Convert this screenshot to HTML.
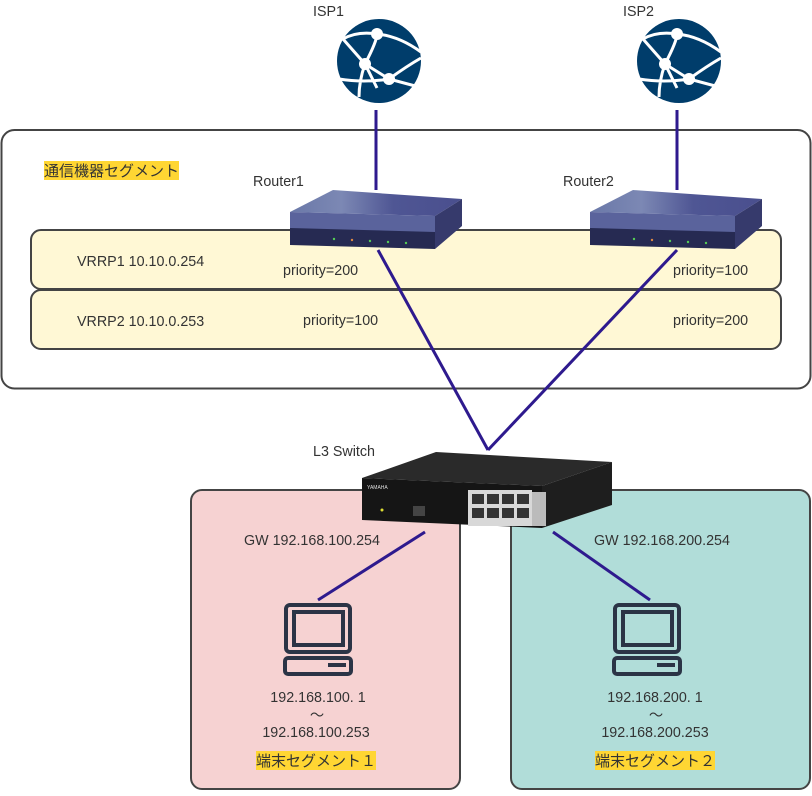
<!DOCTYPE html>
<html><head><meta charset="utf-8"><style>
html,body{margin:0;padding:0;background:#fff;}
svg text{font-family:"Liberation Sans","Noto Sans CJK JP",sans-serif;font-size:14.3px;fill:#333;}
svg text.j{font-size:15px;}
</style></head><body>
<svg width="812" height="791" viewBox="0 0 812 791" xmlns="http://www.w3.org/2000/svg">
<defs>
<linearGradient id="rt" x1="0" y1="0" x2="1" y2="0"><stop offset="0" stop-color="#6a78a8"/><stop offset="0.3" stop-color="#7c88b4"/><stop offset="0.6" stop-color="#4f5694"/><stop offset="1" stop-color="#4a4f8e"/></linearGradient>
<g id="router">
<polygon points="0,22 43,0 172,9 145,26" fill="url(#rt)"/>
<polygon points="0,22 145,26 145,50 0,46" fill="#5a639c"/>
<polygon points="0,38 145,42 145,59 0,55" fill="#262a52"/>
<polygon points="145,26 172,9 172,36 145,59" fill="#363a6c"/>
<circle cx="44" cy="49" r="1.2" fill="#5c5"/><circle cx="62" cy="50" r="1.2" fill="#d84"/><circle cx="80" cy="51" r="1.2" fill="#5c5"/><circle cx="98" cy="52" r="1.2" fill="#5c5"/><circle cx="116" cy="53" r="1.2" fill="#5c5"/>
</g>
<g id="globe">
<circle cx="0" cy="0" r="42" fill="#003d6b"/>
<g stroke="#fff" stroke-width="3" fill="none">
<path d="M-36,-22 L-14,3 L-2,27 M-14,3 Q-2,-20 -2,-27 Q20,-25 42,-9 M-2,-27 Q-22,-30 -36,-22 M-14,3 L10,18 L40,26 M10,18 Q28,5 42,-3 M-14,3 Q-20,20 -20,36 M-40,18 Q-15,22 10,18"/>
</g>
<circle cx="-2" cy="-27" r="6" fill="#fff"/><circle cx="-14" cy="3" r="6" fill="#fff"/><circle cx="10" cy="18" r="6" fill="#fff"/>
</g>
<g id="pc" fill="none" stroke="#2b3446" stroke-width="4">
<rect x="2" y="2" width="64" height="47" rx="4"/>
<rect x="10" y="9" width="49" height="33"/>
<rect x="1" y="55" width="66" height="16" rx="3"/>
<rect x="44" y="60" width="18" height="4" fill="#2b3446" stroke="none"/>
</g>
</defs>

<rect x="1.5" y="130" width="809" height="258.5" rx="13" fill="#fff" stroke="#444" stroke-width="2"/>
<rect x="44" y="161" width="135" height="19" fill="#ffd633"/>
<text class="j" x="44" y="176">通信機器セグメント</text>
<rect x="31" y="230" width="750" height="59" rx="10" fill="#fff8d5" stroke="#444" stroke-width="2"/>
<rect x="31" y="290" width="750" height="59" rx="10" fill="#fff8d5" stroke="#444" stroke-width="2"/>
<text x="77" y="266">VRRP1 10.10.0.254</text>
<text x="77" y="326">VRRP2 10.10.0.253</text>
<text x="283" y="275">priority=200</text>
<text x="303" y="325">priority=100</text>
<text x="673" y="275">priority=100</text>
<text x="673" y="325">priority=200</text>

<rect x="191" y="490" width="269" height="299" rx="11" fill="#f6d2d2" stroke="#444" stroke-width="2"/>
<rect x="511" y="490" width="299" height="299" rx="11" fill="#b1ddd9" stroke="#444" stroke-width="2"/>

<text x="313" y="16">ISP1</text>
<text x="623" y="16">ISP2</text>
<use href="#globe" x="379" y="61"/>
<use href="#globe" x="679" y="61"/>
<text x="253" y="186">Router1</text>
<text x="563" y="186">Router2</text>
<text x="313" y="456">L3 Switch</text>

<g stroke="#2e1a8e" stroke-width="3">
<line x1="376" y1="110" x2="376" y2="190"/>
<line x1="677" y1="110" x2="677" y2="190"/>
<line x1="378" y1="250" x2="488" y2="450"/>
<line x1="677" y1="250" x2="488" y2="450"/>
<line x1="425" y1="532" x2="318" y2="600"/>
<line x1="553" y1="532" x2="650" y2="600"/>
</g>
<use href="#router" x="290" y="190"/>
<use href="#router" x="590" y="190"/>

<polygon points="362,478 436,452 612,462 542,486" fill="#2a2a2a"/>
<polygon points="362,478 542,486 542,528 362,520" fill="#151515"/>
<polygon points="542,486 612,462 612,505 542,528" fill="#1e1e1e"/>
<rect x="468" y="490" width="64" height="36" fill="#d8d8d8"/>
<g fill="#333">
<rect x="472" y="494" width="12" height="10"/><rect x="487" y="494" width="12" height="10"/><rect x="502" y="494" width="12" height="10"/><rect x="517" y="494" width="12" height="10"/>
<rect x="472" y="508" width="12" height="10"/><rect x="487" y="508" width="12" height="10"/><rect x="502" y="508" width="12" height="10"/><rect x="517" y="508" width="12" height="10"/>
</g>
<rect x="532" y="492" width="14" height="34" fill="#bbb"/>
<rect x="413" y="506" width="12" height="10" fill="#444"/>
<circle cx="382" cy="510" r="1.5" fill="#dd3"/>
<text x="367" y="489" style="font-size:5px;fill:#ddd">YAMAHA</text>

<text x="244" y="545">GW 192.168.100.254</text>
<text x="594" y="545">GW 192.168.200.254</text>
<use href="#pc" x="284" y="603"/>
<use href="#pc" x="613" y="603"/>
<text x="318" y="702" text-anchor="middle">192.168.100. 1</text>
<text x="317" y="720" text-anchor="middle">～</text>
<text x="316" y="737" text-anchor="middle">192.168.100.253</text>
<rect x="256" y="751" width="120" height="19" fill="#ffd633"/>
<text class="j" x="256" y="766">端末セグメント１</text>
<text x="655" y="702" text-anchor="middle">192.168.200. 1</text>
<text x="656" y="720" text-anchor="middle">～</text>
<text x="655" y="737" text-anchor="middle">192.168.200.253</text>
<rect x="595" y="751" width="120" height="19" fill="#ffd633"/>
<text class="j" x="595" y="766">端末セグメント２</text>
</svg>
</body></html>
